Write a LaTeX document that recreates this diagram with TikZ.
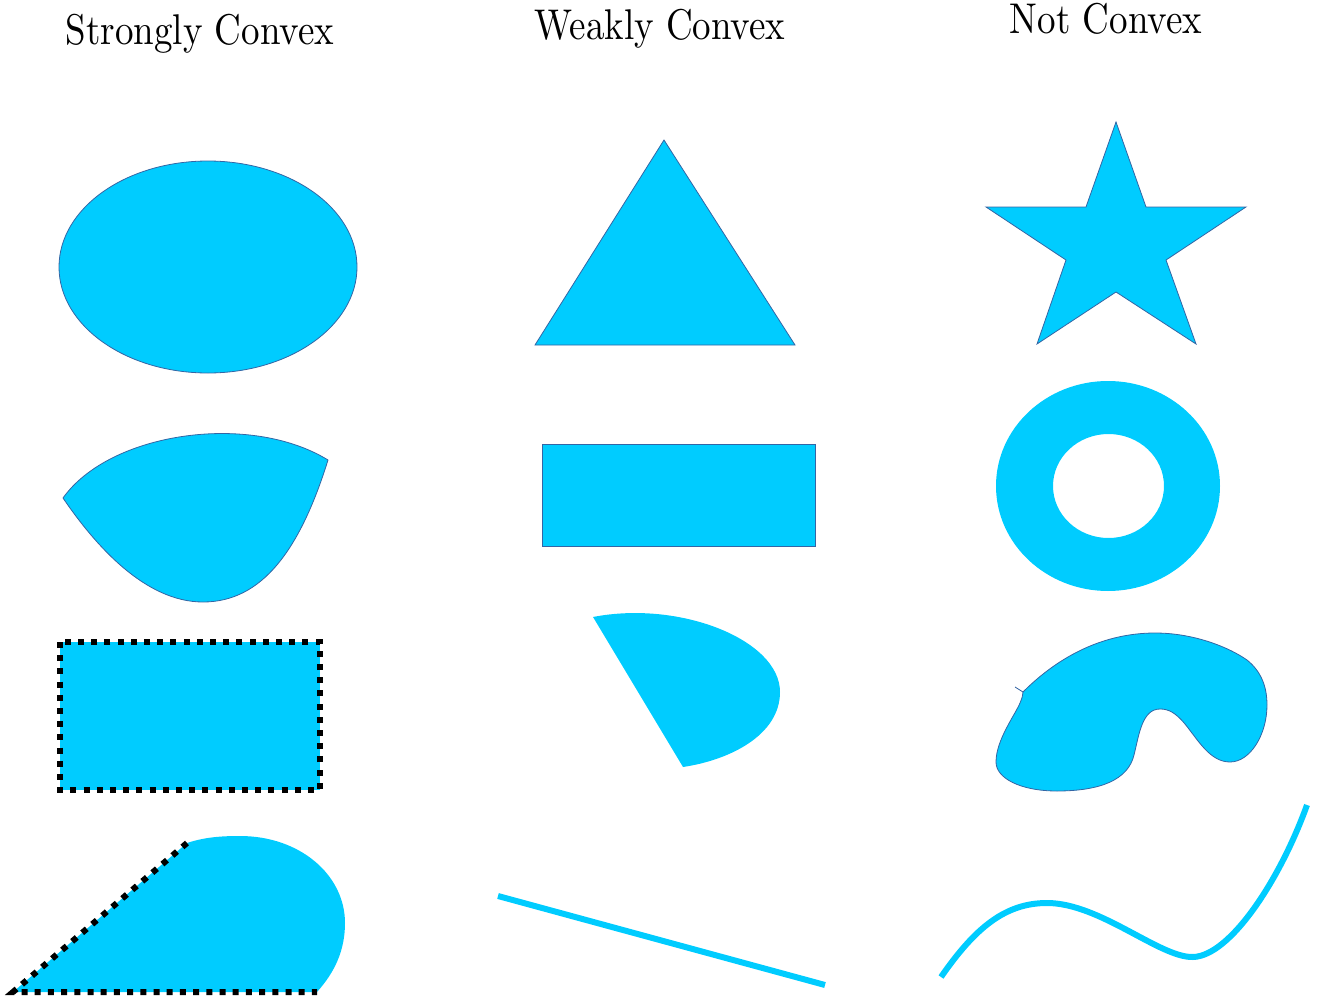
\documentclass[tikz,border=0pt]{standalone}
\usepackage{graphicx}
\definecolor{shapefill}{RGB}{0,204,255}
\definecolor{shapeline}{RGB}{52,101,164}
\newcommand{\bigtitle}[1]{\scalebox{3.7}[4.3]{\fontsize{10}{12}\selectfont #1}}
\begin{document}
\begin{tikzpicture}[x=1pt,y=-1pt,
  title/.style={anchor=base,inner sep=0pt},
  outlined/.style={fill=shapefill,draw=shapeline,line width=0.8pt},
  plain/.style={fill=shapefill},
  dotborder/.style={draw=black,line width=6pt,dash pattern=on 6pt off 7.2pt},
  thickcurve/.style={draw=shapefill,line width=6pt}]
\useasboundingbox (0,0) rectangle (1318,998);
% titles
\node[title] (t1) at (200,45) {\bigtitle{Strongly Convex}};
\node[title] (t2) at (660,40) {\bigtitle{Weakly Convex}};
\node[title] (t3) at (1106,34) {\bigtitle{Not Convex}};
% strongly convex
\draw[outlined] (208,267) ellipse [x radius=149, y radius=106];
\draw[outlined] (63,498) .. controls (110,432) and (250,412) .. (328,460)
  .. controls (300,550) and (262,602) .. (203,602)
  .. controls (145,602) and (95,545) .. (63,498) -- cycle;
\fill[plain] (60,642) rectangle (320,790);
\draw[dotborder] (60,642) rectangle (320,790);
\fill[plain] (187,843) .. controls (205,837) and (222,836) .. (240,836)
  .. controls (300,836) and (345,875) .. (345,923)
  .. controls (345,950) and (335,972) .. (317,992) -- (13,992) -- cycle;
\draw[dotborder] (187,843) -- (13,992) -- (317,992);
% weakly convex
\draw[outlined] (664,140) -- (795,345) -- (535,345) -- cycle;
\draw[outlined] (542,444) rectangle (815,546);
\fill[plain] (593,617) .. controls (680,600) and (780,640) .. (780,692)
  .. controls (780,735) and (730,760) .. (683,767) -- cycle;
\draw[thickcurve] (498,896) -- (825,985);
% not convex
\draw[outlined] (1116,122) -- (1146,207) -- (1246,207) -- (1166,260) -- (1196,344)
  -- (1116,292) -- (1037,344) -- (1066,260) -- (986,207) -- (1086,207) -- cycle;
\fill[plain,even odd rule] (1108,486) ellipse [x radius=112, y radius=105]
  (1108.5,486) ellipse [x radius=55.5, y radius=52];
\draw[outlined] (1023,692) .. controls (1060,655) and (1105,633) .. (1155,633)
  .. controls (1195,633) and (1230,648) .. (1247,660)
  .. controls (1262,672) and (1267,688) .. (1267,705)
  .. controls (1267,735) and (1250,762) .. (1230,762)
  .. controls (1210,762) and (1198,740) .. (1185,724)
  .. controls (1175,712) and (1168,709) .. (1160,709)
  .. controls (1142,709) and (1139,735) .. (1134,755)
  .. controls (1128,780) and (1100,791) .. (1057,791)
  .. controls (1020,791) and (996,778) .. (996,762)
  .. controls (996,740) and (1015,715) .. (1020,703)
  .. controls (1022,698) and (1023,695) .. (1023,692) -- cycle;
\draw[shapeline,line width=0.8pt] (1023,692) -- (1015,687);
\draw[thickcurve] (941,977) .. controls (975,928) and (1005,903) .. (1047,903)
  .. controls (1100,903) and (1160,958) .. (1193,957)
  .. controls (1230,956) and (1280,880) .. (1307,805);
\end{tikzpicture}
\end{document}
